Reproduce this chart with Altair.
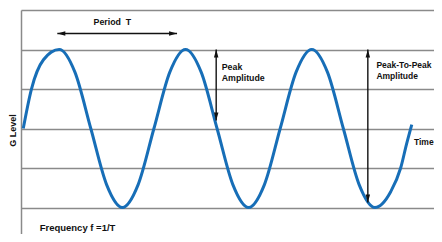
import altair as alt
import pandas as pd

# ---- data (time in periods, level in peak amplitudes) ----
wave_time = [-0.035, 0.03, 0.125, 0.25, 0.375, 0.5, 0.625, 0.75, 0.875, 1.0,
             1.125, 1.25, 1.375, 1.5, 1.625, 1.75, 1.875, 2.0, 2.125, 2.25,
             2.375, 2.5, 2.625, 2.75, 2.875, 2.954, 3.0, 3.042]
wave_level = [0.0, 0.5, 0.87, 1.0, 0.71, 0.0, -0.71, -1.0, -0.71, 0.0,
              0.71, 1.0, 0.71, 0.0, -0.71, -1.0, -0.71, 0.0, 0.71, 1.0,
              0.71, 0.0, -0.71, -1.0, -0.8, -0.5, -0.2, 0.05]

grid_levels = [1.5, 1.0, 0.5, 0.0, -0.5, -1.0]

arrow_name = ["Period", "Peak", "PeakToPeak"]
arrow_t1 = [0.235, 1.493, 2.694]
arrow_l1 = [1.203, 1.0, 1.0]
arrow_t2 = [1.183, 1.493, 2.694]
arrow_l2 = [1.203, 0.10, -0.937]

head_time = [0.235, 1.183, 1.493, 1.493, 2.694, 2.694]
head_level = [1.203, 1.203, 1.0, 0.10, 1.0, -0.937]
head_dir = ["left", "right", "up", "down", "up", "down"]

ann_text = ["Period\u00a0\u00a0T", "Peak", "Amplitude"]
ann_time = [0.522, 1.537, 1.537]
ann_level = [1.344, 0.773, 0.634]

edge_text = ["Peak-To-Peak", "Amplitude", "Time"]
edge_time = [2.762, 2.762, 3.059]
edge_level = [0.804, 0.665, -0.167]

freq_text = ["Frequency f =1/T"]
freq_time = [0.0948]
freq_level = [-1.253]

# ---- tables ----
wave = pd.DataFrame({"t": wave_time, "g": wave_level})
arrows = pd.DataFrame({"name": arrow_name, "t": arrow_t1, "g": arrow_l1,
                       "t2": arrow_t2, "g2": arrow_l2})
head_paths = {
    "up": "M0,0L0.28,1L-0.28,1Z",
    "down": "M0,0L0.28,-1L-0.28,-1Z",
    "left": "M0,0L1,-0.28L1,0.28Z",
    "right": "M0,0L-1,-0.28L-1,0.28Z",
}
heads = pd.DataFrame({"t": head_time, "g": head_level,
                      "path": [head_paths[d] for d in head_dir]})
ann = pd.DataFrame({"t": ann_time, "g": ann_level, "label": ann_text})
edge = pd.DataFrame({"t": edge_time, "g": edge_level, "label": edge_text})
freq = pd.DataFrame({"t": freq_time, "g": freq_level, "label": freq_text})

xscale = alt.Scale(domain=[-0.0528, 3.218], nice=False, zero=False)
yscale = alt.Scale(domain=[-1.335, 1.5], nice=False, zero=False)

GRID = "#8a8a8a"
BLUE = "#176eb7"
INK = "#111111"
FONT = "Liberation Sans"

line = alt.Chart(wave).mark_line(
    interpolate="monotone", color=BLUE, strokeWidth=3, clip=True
).encode(
    x=alt.X("t:Q", scale=xscale, axis=None),
    y=alt.Y(
        "g:Q", scale=yscale,
        axis=alt.Axis(
            values=grid_levels, grid=True, gridColor=GRID, gridWidth=1.4,
            gridOpacity=1, labels=False, ticks=False, domain=True,
            domainColor=GRID, domainWidth=1.5, title="G Level",
            titleFont=FONT, titleFontSize=9, titleFontWeight="bold",
            titleColor=INK, titleAngle=270, titleX=-9, titleY=120,
            titleAlign="center", titleBaseline="middle",
        ),
    ),
)

shafts = alt.Chart(arrows).mark_rule(color=INK, strokeWidth=1.4).encode(
    x="t:Q", y="g:Q", x2="t2:Q", y2="g2:Q"
)

arrowheads = alt.Chart(heads).mark_point(
    filled=True, color=INK, opacity=1, size=256, strokeWidth=0
).encode(
    x="t:Q", y="g:Q", shape=alt.Shape("path:N", scale=None)
)

labels = alt.Chart(ann).mark_text(
    align="left", baseline="middle", font=FONT, fontSize=8.8,
    fontWeight="bold", color=INK
).encode(x="t:Q", y="g:Q", text="label:N")

edge_labels = alt.Chart(edge).mark_text(
    align="left", baseline="middle", font=FONT, fontSize=8.5,
    fontWeight="bold", color=INK
).encode(x="t:Q", y="g:Q", text="label:N")

freq_label = alt.Chart(freq).mark_text(
    align="left", baseline="middle", font=FONT, fontSize=9.5,
    fontWeight="bold", color=INK
).encode(x="t:Q", y="g:Q", text="label:N")

chart = alt.layer(line, shafts, arrowheads, labels, edge_labels, freq_label).properties(
    width=413, height=224,
    padding={"left": 13, "top": 2, "right": 0, "bottom": 0},
    autosize=alt.AutoSizeParams(type="none"),
    background="white",
).configure_view(stroke=None)

chart.save("out.html", embed_options={"renderer": "svg", "actions": False})
